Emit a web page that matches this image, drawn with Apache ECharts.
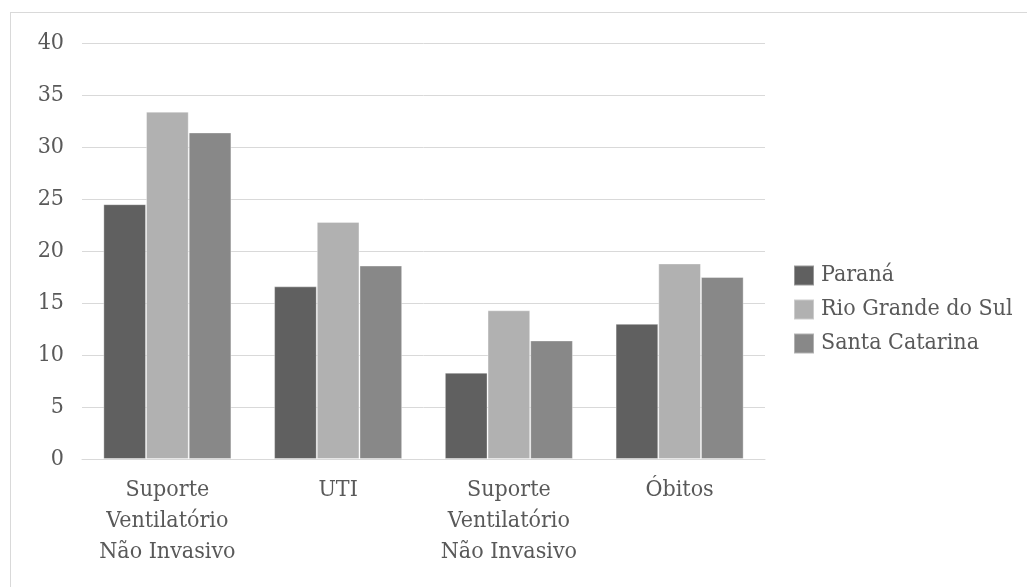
<!DOCTYPE html>
<html>
<head>
<meta charset="utf-8">
<script src="https://cdn.jsdelivr.net/npm/echarts@6/dist/echarts.min.js"></script>
<style>
html,body{margin:0;padding:0;background:#fff;}
#frame{position:absolute;left:10px;top:12px;width:1030px;height:600px;border:1px solid #d9d9d9;box-sizing:border-box;}
#chart{position:absolute;left:0;top:0;width:1027px;height:587px;}
</style>
</head>
<body>
<div id="frame"></div>
<div id="chart"></div>
<script>
const categories = ['Suporte\nVentilatório\nNão Invasivo', 'UTI', 'Suporte\nVentilatório\nNão Invasivo', 'Óbitos'];
const seriesNames = ['Paraná', 'Rio Grande do Sul', 'Santa Catarina'];
const parana = [24.5, 16.6, 8.3, 13.0];
const rioGrandeDoSul = [33.4, 22.8, 14.3, 18.8];
const santaCatarina = [31.4, 18.6, 11.4, 17.5];
const yTicks = {min: 0, max: 40, interval: 5};

const FONT = "'DejaVu Serif Condensed', 'DejaVu Serif', serif";
const colors = ['#606060', '#b1b1b1', '#888888'];
const values = [parana, rioGrandeDoSul, santaCatarina];

const chart = echarts.init(document.getElementById('chart'));
chart.setOption({
  animation: false,
  textStyle: {fontFamily: FONT, color: '#595959'},
  grid: {left: 82, right: 262, top: 43, bottom: 128, containLabel: false},
  legend: {
    orient: 'vertical', left: 793, top: 264, padding: 0,
    itemWidth: 20, itemHeight: 20, itemGap: 11,
    icon: 'rect',
    textStyle: {fontFamily: FONT, fontSize: 23, lineHeight: 20, color: '#595959', padding: [0,0,0,2]},
    data: seriesNames
  },
  xAxis: {
    type: 'category', data: categories,
    axisLine: {lineStyle: {color: '#d9d9d9', width: 1}},
    axisTick: {show: false},
    axisLabel: {fontFamily: FONT, fontSize: 23, color: '#595959', lineHeight: 31, margin: 16, interval: 0}
  },
  yAxis: {
    type: 'value', min: yTicks.min, max: yTicks.max, interval: yTicks.interval,
    axisLine: {show: false}, axisTick: {show: false},
    splitLine: {lineStyle: {color: '#d9d9d9', width: 1}},
    axisLabel: {fontFamily: FONT, fontSize: 23, color: '#595959', margin: 18}
  },
  series: seriesNames.map((n, i) => ({
    name: n, type: 'bar', data: values[i],
    barGap: '0%', barCategoryGap: '25%',
    itemStyle: {color: colors[i], borderColor: 'rgba(255,255,255,0.35)', borderWidth: 1}
  }))
});
</script>
</body>
</html>
